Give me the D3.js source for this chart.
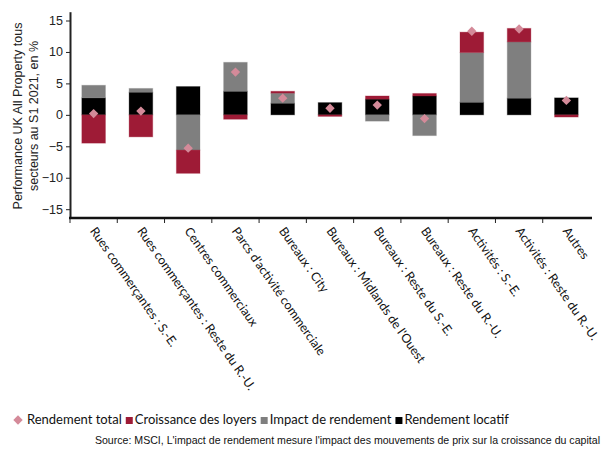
<!DOCTYPE html>
<html lang="fr">
<head>
<meta charset="utf-8">
<title>Performance UK All Property</title>
<script src="https://cdn.jsdelivr.net/npm/d3@7"></script>
<style>
  body { margin: 0; background: #fff; }
  svg { display: block; }
</style>
</head>
<body>
<div id="chart"></div>
<script>
var categories = ["Rues commerçantes : S.-E.", "Rues commerçantes : Reste du R.-U.", "Centres commerciaux",
  "Parcs d'activité commerciale", "Bureaux : City", "Bureaux : Midlands de l'Ouest", "Bureaux : Reste du S.-E.",
  "Bureaux : Reste du R.-U.", "Activités : S.-E.", "Activités : Reste du R.-U.", "Autres"];

var rendementLocatif = [2.7, 3.6, 4.5, 3.75, 1.85, 1.95, 2.5, 3.0, 2.0, 2.65, 2.7];
var impactRendement  = [2.0, 0.6, -5.6, 4.6, 1.6, 0, -1.0, -3.3, 7.9, 8.95, 0];
var croissanceLoyers = [-4.5, -3.5, -3.7, -0.7, 0.3, -0.25, 0.5, 0.4, 3.25, 2.15, -0.35];
var rendementTotal   = [0.2, 0.6, -5.3, 6.8, 2.65, 1.05, 1.55, -0.6, 13.3, 13.65, 2.3];

var yTicks = [-15, -10, -5, 0, 5, 10, 15];

var width = 603, height = 450;
var red = "#9e1b36", grey = "#7f7f7f", black = "#000000", pink = "#d48a99";

var svg = d3.select("#chart").append("svg")
    .attr("width", width)
    .attr("height", height);

var x = d3.scaleBand()
    .domain(categories)
    .range([70, 590])
    .paddingInner(0.5)
    .paddingOuter(0.25);

var y = d3.scaleLinear()
    .domain([-16.4, 16.4])
    .range([218, 11.7]);

// stacked data
var keys = ["locatif", "impact", "loyers"];
var colors = {locatif: black, impact: grey, loyers: red};
var rows = categories.map(function(c, i) {
  return {cat: c, locatif: rendementLocatif[i], impact: impactRendement[i], loyers: croissanceLoyers[i]};
});
var series = d3.stack().keys(keys).offset(d3.stackOffsetDiverging)(rows);

svg.append("g").selectAll("g")
    .data(series)
    .enter().append("g")
    .attr("fill", function(d) { return colors[d.key]; })
    .attr("stroke", function(d) { return colors[d.key]; })
    .attr("stroke-opacity", 0.3)
    .selectAll("rect")
    .data(function(d) { return d.filter(function(e) { return e[1] - e[0] !== 0; }); })
    .enter().append("rect")
    .attr("x", function(d) { return x(d.data.cat); })
    .attr("width", x.bandwidth())
    .attr("y", function(d) { return y(d[1]); })
    .attr("height", function(d) { return y(d[0]) - y(d[1]); });

// total return diamonds
svg.append("g").selectAll("path")
    .data(rendementTotal)
    .enter().append("path")
    .attr("d", d3.symbol(d3.symbolSquare, 44))
    .attr("fill", pink)
    .attr("transform", function(d, i) {
      return "translate(" + (x(categories[i]) + x.bandwidth() / 2) + "," + y(d) + ") rotate(45)";
    });

// y axis
var yAxis = svg.append("g")
    .attr("transform", "translate(70,0)")
    .call(d3.axisLeft(y).tickValues(yTicks).tickSize(4).tickPadding(3).tickSizeOuter(0));
yAxis.select(".domain").attr("stroke", "#222").attr("stroke-width", 2);
yAxis.selectAll(".tick line").attr("stroke", "#222");
yAxis.selectAll("text")
    .attr("font-family", "Liberation Sans, Arial, sans-serif")
    .attr("font-size", "12.5px")
    .attr("fill", "#222");

// x axis: line plus ticks between categories
var xAxis = svg.append("g")
    .attr("transform", "translate(0,218)")
    .call(d3.axisBottom(x).tickSize(0).tickFormat("").tickSizeOuter(0));
xAxis.select(".domain").attr("stroke", "#111").attr("stroke-width", 2.5)
    .attr("d", "M69,0H592");
var step = x.step();
svg.append("g").selectAll("line")
    .data(categories)
    .enter().append("line")
    .attr("x1", function(d) { return x(d) - step * 0.25; })
    .attr("x2", function(d) { return x(d) - step * 0.25; })
    .attr("y1", 219)
    .attr("y2", 223)
    .attr("stroke", "#222");

svg.append("g").selectAll("text")
    .data(categories)
    .enter().append("text")
    .attr("transform", function(d) {
      return "translate(" + (x(d) + x.bandwidth() / 2 + 3) + ",226) rotate(55)";
    })
    .attr("dy", "0.7em")
    .attr("font-family", "Lato, sans-serif")
    .attr("font-size", "12.4px")
    .attr("fill", "#111")
    .text(function(d) { return d; });

// y title
var title = svg.append("text")
    .attr("transform", "translate(0,116) rotate(-90)")
    .attr("text-anchor", "middle")
    .attr("font-family", "Liberation Sans, Arial, sans-serif")
    .attr("font-size", "12.5px")
    .attr("fill", "#222");
title.append("tspan").attr("x", 0).attr("y", 22).text("Performance UK All Property tous");
title.append("tspan").attr("x", 0).attr("y", 38).text("secteurs au S1 2021, en %");

// legend
var legendItems = [
  {label: "Rendement total", color: pink, diamond: true},
  {label: "Croissance des loyers", color: red},
  {label: "Impact de rendement", color: grey},
  {label: "Rendement locatif", color: black}
];
var legend = svg.append("g");
var lx = 14;
legendItems.forEach(function(item) {
  if (item.diamond) {
    legend.append("path")
        .attr("d", d3.symbol(d3.symbolSquare, 44))
        .attr("fill", item.color)
        .attr("transform", "translate(" + (lx + 4) + ",420) rotate(45)");
    lx += 13;
  } else {
    legend.append("rect")
        .attr("x", lx).attr("y", 417)
        .attr("width", 7).attr("height", 7)
        .attr("fill", item.color);
    lx += 9;
  }
  var t = legend.append("text")
      .attr("x", lx).attr("y", 424)
      .attr("font-family", "Lato, sans-serif")
      .attr("font-size", "13px")
      .attr("fill", "#111")
      .text(item.label);
  lx += t.node().getComputedTextLength() + 4;
});

// source
svg.append("text")
    .attr("x", 600)
    .attr("y", 444)
    .attr("text-anchor", "end")
    .attr("font-family", "Liberation Sans, Arial, sans-serif")
    .attr("font-size", "10.6px")
    .attr("fill", "#111")
    .text("Source: MSCI, L'impact de rendement mesure l'impact des mouvements de prix sur la croissance du capital");
</script>
</body>
</html>
